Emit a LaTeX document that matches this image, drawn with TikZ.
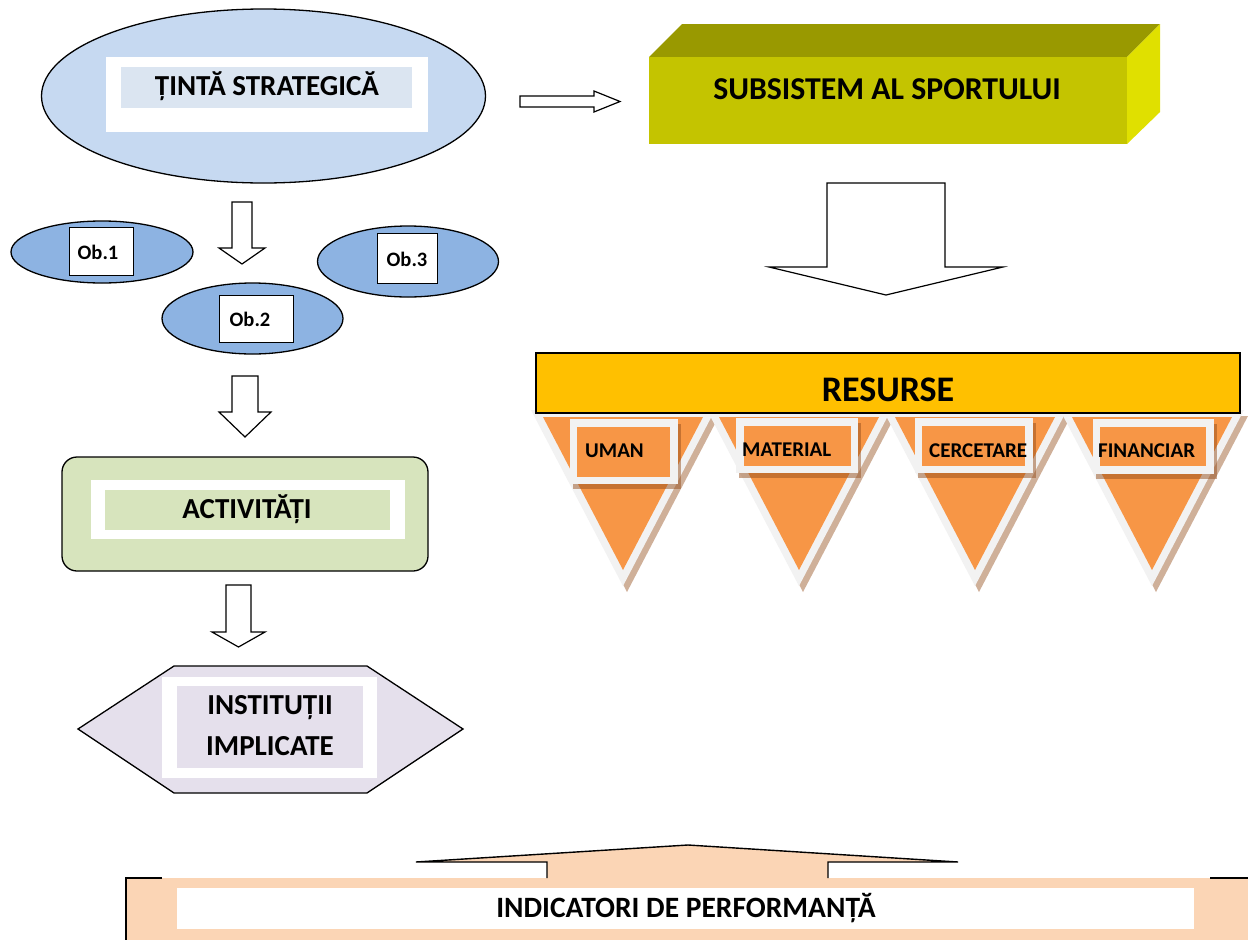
\documentclass[tikz,border=0pt]{standalone}
\usepackage{fontspec}
\setmainfont{Carlito}
\definecolor{tintafill}{HTML}{C6D9F1}
\definecolor{tintainner}{HTML}{DBE5F1}
\definecolor{obfill}{HTML}{8DB3E2}
\definecolor{subfront}{HTML}{C4C400}
\definecolor{subtop}{HTML}{999900}
\definecolor{subright}{HTML}{E0E000}
\definecolor{resfill}{HTML}{FFC000}
\definecolor{triorange}{HTML}{F79646}
\definecolor{triframe}{HTML}{F2F2F2}
\definecolor{shadowc}{RGB}{150,80,30}
\definecolor{actfill}{HTML}{D7E4BD}
\definecolor{instfill}{HTML}{E5E0EC}
\definecolor{indfill}{HTML}{FBD5B5}
\tikzset{
  outl/.style={draw=black, line width=1.3pt, line join=miter},
  blockarrow/.style={draw=black, fill=white, line width=1.2pt, line join=miter},
  bigtxt/.style={font=\bfseries\fontsize{29}{34}\selectfont, inner sep=0pt, anchor=base},
  indtxt/.style={font=\bfseries\fontsize{29.5}{34}\selectfont, inner sep=0pt, anchor=base},
  subtxt/.style={font=\bfseries\fontsize{31.8}{36}\selectfont, inner sep=0pt, anchor=base},
  restxt/.style={font=\bfseries\fontsize{36}{40}\selectfont, inner sep=0pt, anchor=base},
  smalltxt/.style={font=\bfseries\fontsize{20.5}{24}\selectfont, inner sep=0pt, anchor=base},
  labtxt/.style={font=\bfseries\fontsize{21}{24}\selectfont, inner sep=0pt, anchor=base west},
  lshadow/.style={fill=shadowc, fill opacity=0.5},
  tshadow/.style={fill=shadowc, fill opacity=0.45},
}
\begin{document}
\begin{tikzpicture}[x=1pt,y=-1pt]
\useasboundingbox (0,0) rectangle (1248,940);
\fill[white] (0,0) rectangle (1248,940);

% ---------- Tinta strategica ----------
\draw[outl, fill=tintafill] (263.5,96) ellipse [x radius=222, y radius=87];
\fill[white] (106,57) rectangle (428,132);
\fill[tintainner] (121,67) rectangle (412,108);
\node[bigtxt] (tinta) at (267,95) {ȚINTĂ STRATEGICĂ};

% right arrow
\draw[blockarrow] (520,96) -- (594,96) -- (594,91) -- (620,101.5) -- (594,112) -- (594,107) -- (520,107) -- cycle;

% ---------- Subsistem (3D box) ----------
\fill[subtop] (649,57) -- (682,24) -- (1160,24) -- (1127,57) -- cycle;
\fill[subright] (1127,57) -- (1160,24) -- (1160,112) -- (1127,144) -- cycle;
\fill[subfront] (649,57) rectangle (1127,144);
\node[subtxt] (subs) at (887,99) {SUBSISTEM AL SPORTULUI};

% big down arrow
\draw[blockarrow] (827,183) -- (945,183) -- (945,267) -- (1003,267) -- (886,295) -- (769,267) -- (827,267) -- cycle;

% ---------- Ob ellipses ----------
\draw[blockarrow] (232,202) -- (252,202) -- (252,248) -- (265,248) -- (242,264) -- (219,248) -- (232,248) -- cycle;

\draw[outl, fill=obfill] (102,252) ellipse [x radius=91, y radius=31];
\draw[black, line width=1pt, fill=white] (69,227) rectangle (133,275);
\node[smalltxt] (ob1) at (98,259) {Ob.1};

\draw[outl, fill=obfill] (408,261.5) ellipse [x radius=90.5, y radius=35.5];
\draw[black, line width=1pt, fill=white] (377,233) rectangle (437,283);
\node[smalltxt] (ob3) at (407,266) {Ob.3};

\draw[outl, fill=obfill] (252.5,318.5) ellipse [x radius=90.5, y radius=35.5];
\draw[black, line width=1pt, fill=white] (219,295) rectangle (293,342);
\node[smalltxt] (ob2) at (250,326) {Ob.2};

% arrow to activitati
\draw[blockarrow] (232,376) -- (258,376) -- (258,412) -- (271,412) -- (245,437) -- (219,412) -- (232,412) -- cycle;

% ---------- Activitati ----------
\draw[outl, fill=actfill, rounded corners=15pt] (62,457) rectangle (428,571);
\fill[white] (91,480) rectangle (405,539);
\fill[actfill] (105,490) rectangle (390,530);
\node[bigtxt] (act) at (247,518) {ACTIVITĂȚI};

% arrow to institutii
\draw[blockarrow] (226,585) -- (251,585) -- (251,632) -- (265,632) -- (238.5,647) -- (212,632) -- (226,632) -- cycle;

% ---------- Institutii implicate ----------
\draw[outl, fill=instfill] (78,729) -- (174,666) -- (367,666) -- (463,729) -- (367,793) -- (174,793) -- cycle;
\fill[white] (162,677) rectangle (377,778);
\fill[instfill] (177,686) rectangle (363,768);
\node[bigtxt] (inst1) at (270,714) {INSTITUȚII};
\node[bigtxt] (inst2) at (270,755) {IMPLICATE};

% ---------- Resurse triangles ----------
\foreach \cx in {623,799,975,1152} {
  \fill[tshadow] (\cx-88,416) -- (\cx+96,416) -- (\cx+4,592) -- cycle;
}
\foreach \cx in {623,799,975,1152} {
  \fill[triframe] (\cx-92,410) -- (\cx+92,410) -- (\cx,586) -- cycle;
  \fill[triorange] (\cx-80,417) -- (\cx+80,417) -- (\cx,570) -- cycle;
}
\draw[black, line width=1.3pt, fill=resfill] (536,353) rectangle (1240,413);
\node[restxt] (res) at (888,401) {RESURSE};

% labels
\fill[lshadow] (573,424) rectangle (681,489);
\fill[triframe] (570,419) rectangle (678,484);
\fill[triorange] (577,427) rectangle (670,477);
\node[labtxt] (uman) at (585,457) {UMAN};

\fill[lshadow] (739,423) rectangle (861,478);
\fill[triframe] (736,418) rectangle (858,473);
\fill[triorange] (744,426) rectangle (851,466);
\node[labtxt] (mat) at (742,456) {MATERIAL};

\fill[lshadow] (918,423) rectangle (1036,478);
\fill[triframe] (915,418) rectangle (1033,473);
\fill[triorange] (922,426) rectangle (1025,466);
\begin{scope}
\clip (922,418) rectangle (1026,473);
\node[labtxt] (cerc) at (929,457) {CERCETARE};
\end{scope}

\fill[lshadow] (1096,424) rectangle (1217,479);
\fill[triframe] (1093,419) rectangle (1214,474);
\fill[triorange] (1100,427) rectangle (1206,466);
\begin{scope}
\clip (1099.5,419) rectangle (1214,474);
\node[labtxt] (fin) at (1098,457) {FINANCIAR};
\end{scope}

% ---------- Indicatori de performanta ----------
\fill[indfill] (126,960) -- (126,878) -- (547,878) -- (547,862) -- (416,862) -- (688,845)
  -- (958,862) -- (828,862) -- (828,878) -- (1260,878) -- (1260,960) -- cycle;
\draw[black, line width=1.4pt] (126,960) -- (126,878) -- (162,878);
\draw[black, line width=1.4pt, line join=miter] (547,878) -- (547,862) -- (416,862) -- (688,845)
  -- (958,862) -- (828,862) -- (828,878);
\draw[black, line width=1.4pt] (1210,878) -- (1260,878);
\fill[white] (177,888) rectangle (1194,929);
\node[indtxt] (ind) at (686,917) {INDICATORI DE PERFORMANȚĂ};
\end{tikzpicture}
\end{document}
